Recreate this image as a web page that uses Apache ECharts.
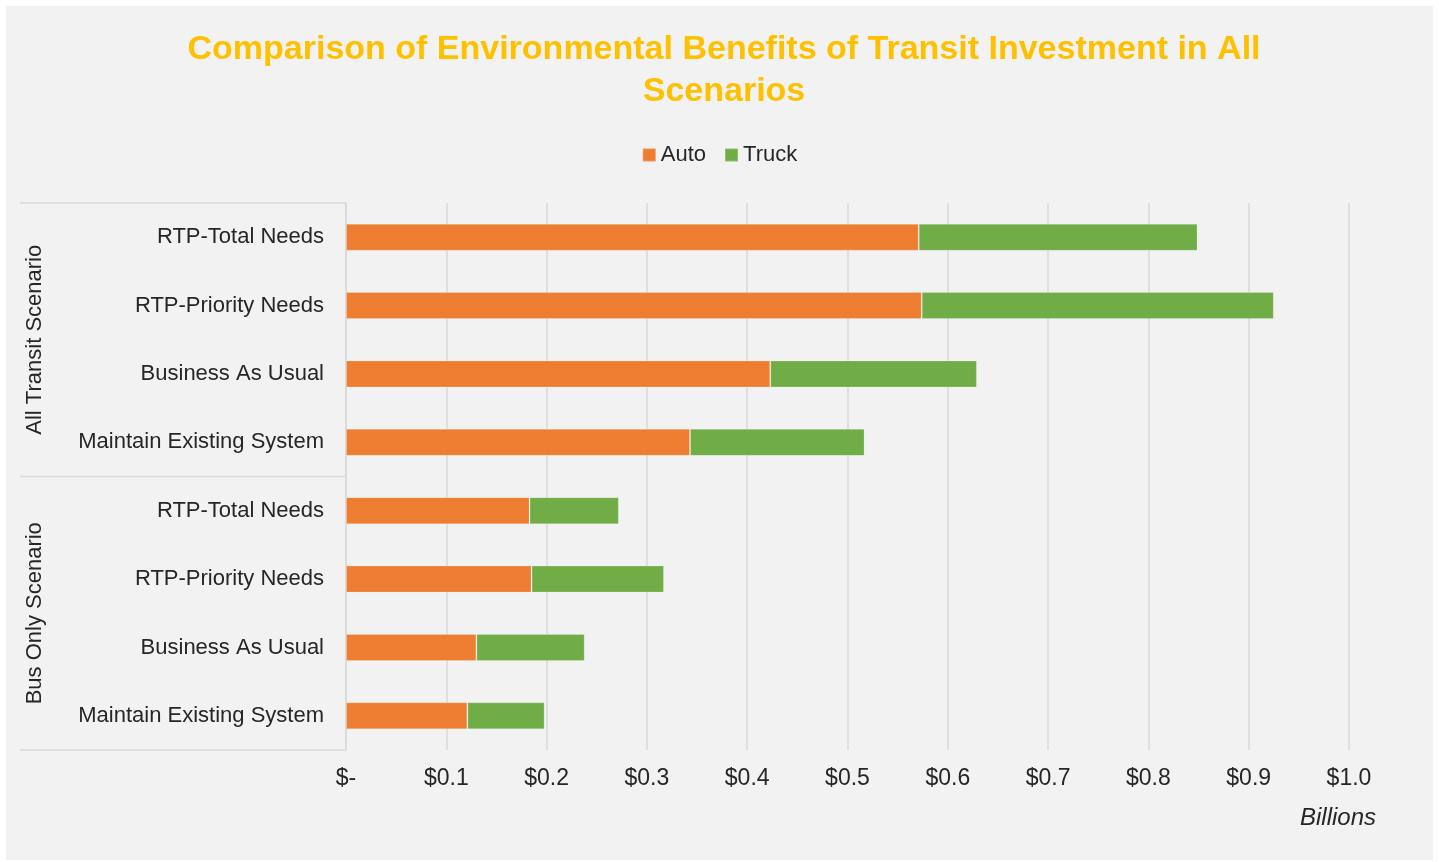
<!DOCTYPE html>
<html>
<head>
<meta charset="utf-8">
<script src="https://cdn.jsdelivr.net/npm/echarts@6/dist/echarts.min.js"></script>
<style>
html,body{margin:0;padding:0;background:#ffffff;}
#bg{position:absolute;left:6px;top:6px;width:1427px;height:854px;background:#f2f2f2;}
#chart{position:absolute;left:0;top:0;width:1439px;height:862px;}
</style>
</head>
<body>
<div id="bg"></div>
<div id="chart"></div>
<script>
const categories = [
  "RTP-Total Needs", "RTP-Priority Needs", "Business As Usual", "Maintain Existing System",
  "RTP-Total Needs", "RTP-Priority Needs", "Business As Usual", "Maintain Existing System"
];
const groups = ["All Transit Scenario", "Bus Only Scenario"];
const autoValues = [0.571, 0.574, 0.423, 0.343, 0.183, 0.185, 0.130, 0.121];
const truckValues = [0.278, 0.351, 0.206, 0.174, 0.089, 0.132, 0.108, 0.077];
const xTicks = [0, 0.1, 0.2, 0.3, 0.4, 0.5, 0.6, 0.7, 0.8, 0.9, 1.0];

const FONT = '"Liberation Sans", Arial, sans-serif';
const chart = echarts.init(document.getElementById('chart'), null, {renderer: 'canvas'});

const gridLeft = 346, gridRight = 1349, gridTop = 203, gridBottom = 750;
const boxLeft = 20;
const mid = (gridTop + gridBottom) / 2;

chart.setOption({
  backgroundColor: 'transparent',
  animation: false,
  title: {
    text: 'Comparison of Environmental Benefits of Transit Investment in All\nScenarios',
    left: 719, top: 24, textAlign: 'center',
    textStyle: {color: '#ffc000', fontFamily: FONT, fontWeight: 'bold', fontSize: 34, lineHeight: 42}
  },
  legend: {
    top: 139, left: 'center',
    itemWidth: 13, itemHeight: 13, itemGap: 18,
    icon: 'rect',
    textStyle: {fontFamily: FONT, fontSize: 22, color: '#262626', padding: [0,0,0,0]},
    data: ['Auto', 'Truck']
  },
  grid: {left: gridLeft, right: 1439 - gridRight, top: gridTop, bottom: 862 - gridBottom, containLabel: false},
  xAxis: {
    type: 'value', min: 0, max: 1, interval: 0.1,
    axisLine: {show: false}, axisTick: {show: false},
    splitLine: {show: true, lineStyle: {color: '#d9d9d9', width: 1.5}},
    axisLabel: {
      margin: 17, fontFamily: FONT, fontSize: 23, color: '#262626',
      formatter: function (v) { return Math.abs(v) < 1e-9 ? '$-' : '$' + v.toFixed(1); }
    }
  },
  yAxis: {
    type: 'category', inverse: true, data: categories,
    axisLine: {show: true, lineStyle: {color: '#d9d9d9', width: 1.5}},
    axisTick: {show: false},
    axisLabel: {margin: 22, fontFamily: FONT, fontSize: 22, color: '#262626', padding: [2,0,0,0]}
  },
  series: [
    {name: 'Auto', type: 'bar', stack: 'total', data: autoValues, barWidth: 27,
     itemStyle: {color: '#ed7d31', borderColor: 'rgba(255,255,255,0.2)', borderWidth: 1}},
    {name: 'Truck', type: 'bar', stack: 'total', data: truckValues, barWidth: 27,
     itemStyle: {color: '#70ad47', borderColor: 'rgba(255,255,255,0.2)', borderWidth: 1}}
  ],
  graphic: [
    {type: 'line', shape: {x1: boxLeft, y1: gridTop, x2: gridLeft, y2: gridTop}, style: {stroke: '#d9d9d9', lineWidth: 1.5}},
    {type: 'line', shape: {x1: boxLeft, y1: mid, x2: gridLeft, y2: mid}, style: {stroke: '#d9d9d9', lineWidth: 1.5}},
    {type: 'line', shape: {x1: boxLeft, y1: gridBottom, x2: gridLeft, y2: gridBottom}, style: {stroke: '#d9d9d9', lineWidth: 1.5}},
    {type: 'text', x: 35, y: (gridTop + mid) / 2, rotation: Math.PI / 2,
     style: {text: groups[0], fontFamily: FONT, fontSize: 22, fill: '#262626', textAlign: 'center', textVerticalAlign: 'middle'}},
    {type: 'text', x: 35, y: (mid + gridBottom) / 2, rotation: Math.PI / 2,
     style: {text: groups[1], fontFamily: FONT, fontSize: 22, fill: '#262626', textAlign: 'center', textVerticalAlign: 'middle'}},
    {type: 'text', x: 1376, y: 818,
     style: {text: 'Billions', fontFamily: FONT, fontSize: 24, fontStyle: 'italic', fill: '#262626', textAlign: 'right', textVerticalAlign: 'middle'}}
  ]
});
</script>
</body>
</html>
